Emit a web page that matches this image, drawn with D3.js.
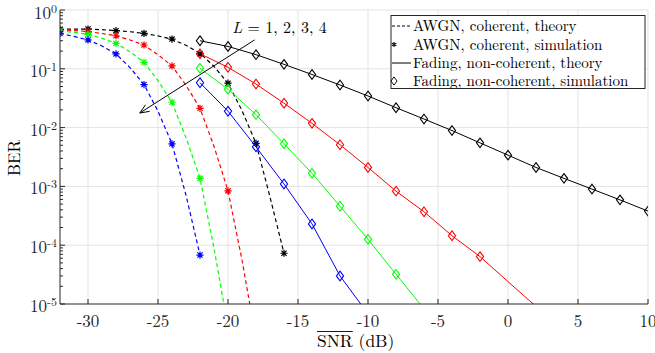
<!DOCTYPE html>
<html lang="en">
<head>
<meta charset="UTF-8">
<title>BER vs SNR</title>
<script src="https://d3js.org/d3.v7.min.js"></script>
<style>
    body { margin: 0; background: white; }
    svg { display: block; }
    .grid line { stroke: #e3e3e3; stroke-width: 1; }
    .axis { stroke: #262626; stroke-width: 1; }
</style>
</head>
<body>
<svg id="chart"></svg>
<script>
// AWGN, coherent: simulation points (every 2 dB)
const awgnSimSnr = [-32, -30, -28, -26, -24, -22, -20, -18, -16];
const awgnSimL1 = [0.47, 0.475, 0.445, 0.40, 0.32, 0.18, 0.057, 0.0054, 0.000073];
const awgnSimL2 = [0.46, 0.43, 0.365, 0.254, 0.112, 0.0213, 0.00084];
const awgnSimL3 = [0.44, 0.386, 0.27, 0.129, 0.027, 0.00137];
const awgnSimL4 = [0.40, 0.31, 0.179, 0.054, 0.0053, 0.000068];

// AWGN, coherent: theory (every 1 dB)
const awgnThSnr = [-32, -31, -30, -29, -28, -27, -26, -25, -24, -23, -22, -21, -20, -19, -18, -17, -16];
const awgnThL1 = [0.470, 0.473, 0.475, 0.462, 0.445, 0.427, 0.400, 0.363, 0.318, 0.251, 0.184, 0.110, 0.0566, 0.0195, 0.0054, 0.00066, 0.0000728];
const awgnThL2 = [0.460, 0.447, 0.431, 0.398, 0.365, 0.309, 0.254, 0.174, 0.112, 0.0525, 0.0213, 0.00479, 0.00084, 0.0000562, 0.0000025];
const awgnThL3 = [0.440, 0.417, 0.386, 0.331, 0.272, 0.195, 0.129, 0.063, 0.0269, 0.00676, 0.00138, 0.0000891, 0.000004];
const awgnThL4 = [0.400, 0.355, 0.310, 0.245, 0.179, 0.105, 0.054, 0.019, 0.0053, 0.00071, 0.000068];

// Fading, non-coherent (every 2 dB from -22)
const fadeSnr = [-22, -20, -18, -16, -14, -12, -10, -8, -6, -4, -2, 0, 2, 4, 6, 8, 10];
const fadeSimL1 = [0.30, 0.24, 0.174, 0.119, 0.080, 0.053, 0.0345, 0.0218, 0.014, 0.0089, 0.0055, 0.0034, 0.0021, 0.00137, 0.00090, 0.00059, 0.00038];
const fadeSimL2 = [0.18, 0.106, 0.055, 0.026, 0.0118, 0.0051, 0.0021, 0.00083, 0.00037, 0.000145, 0.000064];
const fadeSimL3 = [0.102, 0.045, 0.0166, 0.0053, 0.00167, 0.00046, 0.000126, 0.000032];
const fadeSimL4 = [0.058, 0.019, 0.0047, 0.0011, 0.00023, 0.000030];
const fadeThL1 = [0.30, 0.24, 0.174, 0.119, 0.080, 0.053, 0.0345, 0.0218, 0.014, 0.0089, 0.0055, 0.0034, 0.0021, 0.00137, 0.00090, 0.00059, 0.00038];
const fadeThL2 = [0.18, 0.106, 0.055, 0.026, 0.0118, 0.0051, 0.0021, 0.00083, 0.00037, 0.000145, 0.000064, 0.000024, 0.0000091];
const fadeThL3 = [0.102, 0.045, 0.0166, 0.0053, 0.00167, 0.00046, 0.000126, 0.000032, 0.0000083];
const fadeThL4 = [0.058, 0.019, 0.0047, 0.0011, 0.00023, 0.000030, 0.0000068];

const colors = ["#000000", "#ff0000", "#00ff00", "#0000ff"];
const xTicks = [-30, -25, -20, -15, -10, -5, 0, 5, 10];
const yTicks = [1, 1e-1, 1e-2, 1e-3, 1e-4, 1e-5];
const yTickExp = ["0", "-1", "-2", "-3", "-4", "-5"];
const legendLabels = ["AWGN, coherent, theory", "AWGN, coherent, simulation",
                      "Fading, non-coherent, theory", "Fading, non-coherent, simulation"];

const width = 655, height = 353;
const svg = d3.select("#chart").attr("width", width).attr("height", height)
    .attr("font-family", "'Latin Modern Roman', 'CMU Serif', 'Liberation Serif', serif");

const x = d3.scaleLinear().domain([-32, 10]).range([60, 648]);
const y = d3.scaleLog().domain([1e-5, 1]).range([304, 10]);

// grid
const grid = svg.append("g").attr("class", "grid");
grid.selectAll(".gx").data(xTicks).enter().append("line")
    .attr("x1", d => x(d)).attr("x2", d => x(d)).attr("y1", y(1)).attr("y2", y(1e-5));
grid.selectAll(".gy").data(yTicks.slice(0, 5)).enter().append("line")
    .attr("x1", x(-32)).attr("x2", x(10)).attr("y1", d => y(d)).attr("y2", d => y(d));

svg.append("clipPath").attr("id", "clip").append("rect")
    .attr("x", x(-32)).attr("y", y(1)).attr("width", x(10) - x(-32)).attr("height", y(1e-5) - y(1));
const plot = svg.append("g").attr("clip-path", "url(#clip)");

const line = d3.line().x(d => x(d[0])).y(d => y(d[1]));
const zip = (xs, ys) => ys.map((v, i) => [xs[i], v]);

// AWGN theory (dashed)
[awgnThL1, awgnThL2, awgnThL3, awgnThL4].forEach((ys, i) => {
    plot.append("path").attr("d", line(zip(awgnThSnr, ys)))
        .attr("fill", "none").attr("stroke", colors[i]).attr("stroke-width", 1.2)
        .attr("stroke-dasharray", "4,3");
});
// Fading theory (solid)
[fadeThL1, fadeThL2, fadeThL3, fadeThL4].forEach((ys, i) => {
    plot.append("path").attr("d", line(zip(fadeSnr, ys)))
        .attr("fill", "none").attr("stroke", colors[i]).attr("stroke-width", 1);
});

const starPath = "M0,-3.6V3.6M-3.6,0H3.6M-2.6,-2.6L2.6,2.6M-2.6,2.6L2.6,-2.6";
const diamondPath = "M0,-4.8L3.6,0L0,4.8L-3.6,0Z";

[awgnSimL1, awgnSimL2, awgnSimL3, awgnSimL4].forEach((ys, i) => {
    plot.selectAll(null).data(zip(awgnSimSnr, ys)).enter().append("path")
        .attr("d", starPath)
        .attr("transform", d => `translate(${x(d[0])},${y(d[1])})`)
        .attr("fill", "none").attr("stroke", colors[i]).attr("stroke-width", 1.2);
});
[fadeSimL1, fadeSimL2, fadeSimL3, fadeSimL4].forEach((ys, i) => {
    plot.selectAll(null).data(zip(fadeSnr, ys)).enter().append("path")
        .attr("d", diamondPath)
        .attr("transform", d => `translate(${x(d[0])},${y(d[1])})`)
        .attr("fill", "none").attr("stroke", colors[i]).attr("stroke-width", 1.1);
});

// axes (left + bottom, ticks inward)
svg.append("line").attr("class", "axis")
    .attr("x1", x(-32)).attr("x2", x(-32)).attr("y1", y(1)).attr("y2", y(1e-5));
svg.append("line").attr("class", "axis")
    .attr("x1", x(-32)).attr("x2", x(10)).attr("y1", y(1e-5)).attr("y2", y(1e-5));

xTicks.forEach(t => {
    svg.append("line").attr("class", "axis")
        .attr("x1", x(t)).attr("x2", x(t)).attr("y1", y(1e-5)).attr("y2", y(1e-5) - 5);
    svg.append("text").attr("font-size", "17px").attr("fill", "#262626")
        .attr("x", x(t)).attr("y", 327).attr("text-anchor", "middle").text(t);
});

yTicks.forEach((t, i) => {
    svg.append("line").attr("class", "axis")
        .attr("x1", x(-32)).attr("x2", x(-32) + 5).attr("y1", y(t)).attr("y2", y(t));
    const lab = svg.append("text").attr("font-size", "17px").attr("fill", "#262626")
        .attr("x", 57).attr("y", y(t) + (i === 0 ? 9 : 8)).attr("text-anchor", "end");
    lab.append("tspan").text("10");
    lab.append("tspan").attr("dy", -6).attr("font-size", "12px").text(yTickExp[i]);
});
// minor ticks on the log axis
for (let e = -5; e < 0; e++) {
    for (let m = 2; m <= 9; m++) {
        const v = m * Math.pow(10, e);
        svg.append("line").attr("class", "axis")
            .attr("x1", x(-32)).attr("x2", x(-32) + 3).attr("y1", y(v)).attr("y2", y(v));
    }
}

// axis titles
svg.append("text").attr("transform", "translate(20,158) rotate(-90)")
    .attr("text-anchor", "middle").attr("font-size", "17px").attr("fill", "#000").text("BER");
const xt = svg.append("text").attr("x", 317).attr("y", 347).attr("font-size", "17.5px").attr("fill", "#000");
const snrSpan = xt.append("tspan").text("SNR");
xt.append("tspan").text(" (dB)");
const snrLen = snrSpan.node().getComputedTextLength();
svg.append("line").attr("x1", 317).attr("x2", 317 + snrLen).attr("y1", 331.5).attr("y2", 331.5)
    .attr("stroke", "#000").attr("stroke-width", 0.9);

// annotation
svg.append("text").attr("x", x(-19.7)).attr("y", y(0.40)).attr("font-size", "16px").attr("fill", "#000")
    .html('<tspan font-style="italic">L</tspan> = 1, 2, 3, 4');
const a0 = [x(-18.1), y(0.31)], a1 = [x(-26.3), y(0.0177)];
svg.append("line").attr("x1", a0[0]).attr("y1", a0[1]).attr("x2", a1[0]).attr("y2", a1[1])
    .attr("stroke", "#000").attr("stroke-width", 1);
const ang = Math.atan2(a0[1] - a1[1], a0[0] - a1[0]);
const head = [-0.4, 0.4].map(da => [a1[0] + 10 * Math.cos(ang + da), a1[1] + 10 * Math.sin(ang + da)]);
svg.append("path")
    .attr("d", `M${head[0][0]},${head[0][1]}L${a1[0]},${a1[1]}L${head[1][0]},${head[1][1]}`)
    .attr("fill", "none").attr("stroke", "#000").attr("stroke-width", 1);

// legend
const lg = svg.append("g");
lg.append("rect").attr("x", 391).attr("y", 15.5).attr("width", 254).attr("height", 73)
    .attr("fill", "white").attr("stroke", "#262626").attr("stroke-width", 1);
const rowY = [26, 44.5, 63, 81];
legendLabels.forEach((lab, i) => {
    const ry = rowY[i];
    if (i === 0) lg.append("line").attr("x1", 392).attr("x2", 411).attr("y1", ry).attr("y2", ry)
        .attr("stroke", "#000").attr("stroke-width", 1).attr("stroke-dasharray", "3,2");
    if (i === 1) lg.append("path").attr("d", "M0,-2.6V2.6M-2.3,-1.3L2.3,1.3M-2.3,1.3L2.3,-1.3")
        .attr("transform", `translate(394,${ry})`).attr("stroke", "#000").attr("stroke-width", 1.1);
    if (i === 2) lg.append("line").attr("x1", 392).attr("x2", 411).attr("y1", ry).attr("y2", ry)
        .attr("stroke", "#000").attr("stroke-width", 1);
    if (i === 3) lg.append("path").attr("d", diamondPath)
        .attr("transform", `translate(394,${ry}) scale(0.85)`).attr("fill", "none")
        .attr("stroke", "#000").attr("stroke-width", 1.1);
    lg.append("text").attr("font-size", "15px").attr("fill", "#000")
        .attr("x", 413).attr("y", ry + 5).text(lab);
});
</script>
</body>
</html>
